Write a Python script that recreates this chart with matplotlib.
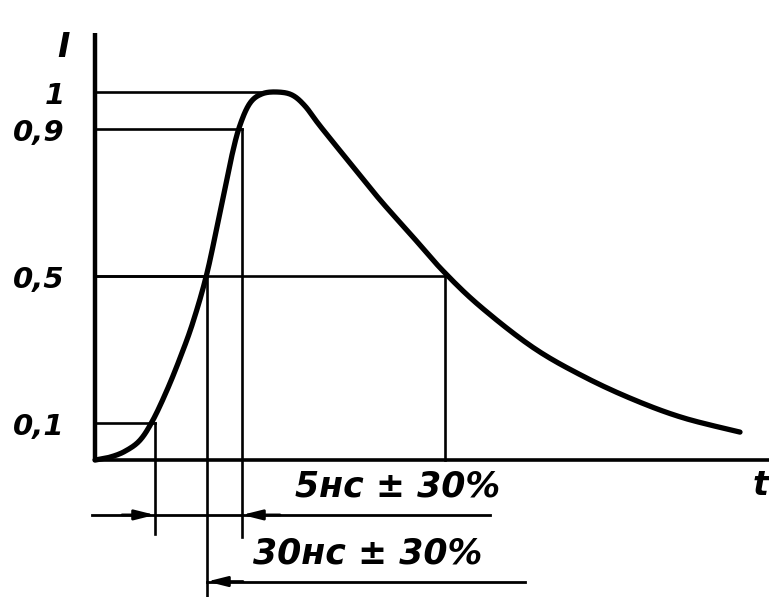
import matplotlib.pyplot as plt
import numpy as np

# pulse shape (t in arbitrary units, I normalised)
t_curve = [0.0, 1.5, 3.0, 4.5, 5.8, 7.2, 8.5, 9.8, 11.2, 12.5, 13.7, 14.5, 15.5, 16.7, 18.2,
           19.7, 21.0, 22.5, 25.5, 28.5, 31.8, 34.8, 38.5, 43.8, 48.8, 53.8, 58.8, 64.5]
i_curve = [0.0, 0.008, 0.024, 0.054, 0.109, 0.190, 0.277, 0.375, 0.508, 0.674, 0.829, 0.910,
           0.970, 0.995, 1.0, 0.992, 0.962, 0.908, 0.807, 0.707, 0.606, 0.514, 0.418, 0.306,
           0.228, 0.165, 0.115, 0.076]

levels = [1.0, 0.9, 0.5, 0.1]
level_labels = ["1", "0,9", "0,5", "0,1"]
t_cross = [18.2, 14.7, 11.2, 6.0]       # where each level meets the rising edge
t_half_fall = 35.0                      # 0.5 on the falling edge

rise_label = "5нс ± 30%"
width_label = "30нс ± 30%"


def smooth(xs, ys, n=12):
    # catmull-rom through the read points, only to draw a smooth line
    p = np.column_stack([xs, ys])
    p = np.vstack([p[0], p, p[-1]])
    out = []
    for i in range(1, len(p) - 2):
        p0, p1, p2, p3 = p[i - 1], p[i], p[i + 1], p[i + 2]
        for s in np.linspace(0, 1, n, endpoint=False):
            out.append(0.5 * (2 * p1 + (-p0 + p2) * s + (2 * p0 - 5 * p1 + 4 * p2 - p3) * s ** 2
                              + (-p0 + 3 * p1 - 3 * p2 + p3) * s ** 3))
    out.append(p[-2])
    out = np.array(out)
    return out[:, 0], out[:, 1]


fig = plt.figure(figsize=(7.69, 5.97), dpi=100)
ax = fig.add_axes([0, 0, 1, 1])
ax.set_xlim(-9.5, 67.4)
ax.set_ylim(-0.372, 1.25)
ax.axis("off")

k = "black"
fnt = dict(family="DejaVu Sans", weight="bold", style="italic", color=k)

# axes
ax.plot([0, 0], [0, 1.16], color=k, lw=3.2, solid_capstyle="butt")
ax.plot([0, 67.4], [0, 0], color=k, lw=2.6)
ax.text(-3.2, 1.12, "I", fontsize=24, ha="center", va="center", **fnt)
ax.text(66.6, -0.07, "t", fontsize=24, ha="center", va="center", **fnt)

# level lines and labels
for lv, lab, tc in zip(levels, level_labels, t_cross):
    ax.plot([0, tc], [lv, lv], color=k, lw=1.9)
    ax.text(-3.0, lv - 0.01, lab, fontsize=21, ha="right", va="center", **fnt)
ax.plot([0, t_half_fall], [0.5, 0.5], color=k, lw=1.9)

# vertical construction lines
ax.plot([t_cross[3], t_cross[3]], [0.1, -0.2], color=k, lw=1.9)
ax.plot([t_cross[2], t_cross[2]], [0.5, -0.37], color=k, lw=1.9)
ax.plot([t_cross[1], t_cross[1]], [0.9, -0.21], color=k, lw=1.9)
ax.plot([t_half_fall, t_half_fall], [0.5, 0], color=k, lw=1.9)

# curve
sx, sy = smooth(t_curve, i_curve)
ax.plot(sx, sy, color=k, lw=3.8, solid_capstyle="round", solid_joinstyle="round")

# dimension lines
y1, y2 = -0.149, -0.33
ax.plot([-0.3, 39.5], [y1, y1], color=k, lw=2.0)
ax.plot([t_cross[2], 43.0], [y2, y2], color=k, lw=2.0)
arr = dict(arrowstyle="-|>,head_length=1.2,head_width=0.3", color=k, lw=2.0, shrinkA=0, shrinkB=0)
ax.annotate("", xy=(t_cross[3], y1), xytext=(2.7, y1), arrowprops=arr)
ax.annotate("", xy=(t_cross[1], y1), xytext=(18.5, y1), arrowprops=arr)
ax.annotate("", xy=(t_cross[2], y2), xytext=(14.8, y2), arrowprops=arr)

ax.text(20.0, y1 + 0.03, rise_label, fontsize=25, ha="left", va="bottom", **fnt)
ax.text(15.8, y2 + 0.03, width_label, fontsize=25, ha="left", va="bottom", **fnt)

fig.savefig("out.png", dpi=100)
